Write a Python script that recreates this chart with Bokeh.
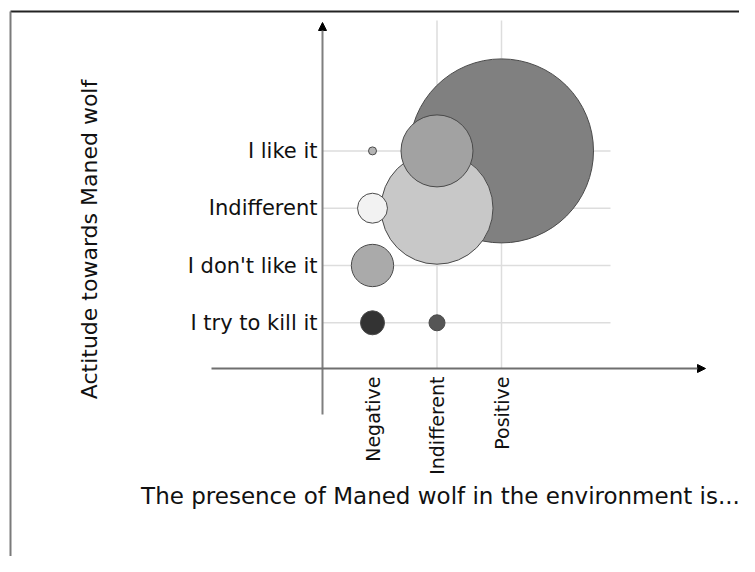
from math import pi, sqrt

from bokeh.plotting import figure
from bokeh.models import FixedTicker, Arrow, NormalHead, Label, ColumnDataSource
from bokeh.embed import file_html
from bokeh.resources import INLINE

# ---------------- data ----------------
x_categories = ["Negative", "Indifferent", "Positive"]
y_categories = ["I try to kill it", "I don't like it", "Indifferent", "I like it"]

bubble_x = ["Positive", "Indifferent", "Indifferent", "Negative",
            "Negative", "Negative", "Negative", "Indifferent"]
bubble_y = ["I like it", "Indifferent", "I like it", "I like it",
            "Indifferent", "I don't like it", "I try to kill it", "I try to kill it"]
bubble_count = [529, 196, 81, 1, 14, 28, 9, 4]
bubble_color = ["#808080", "#c8c8c8", "#a2a2a2", "#b4b4b4",
                "#f2f2f2", "#aaaaaa", "#333333", "#555555"]

x_title = "The presence of Maned wolf in the environment is..."
y_title = "Actitude towards Maned wolf"

# ---------------- layout helpers (picture pixels -> data) ----------------
W, H = 739, 556
X_PX0, X_STEP = 372.0, 64.5     # pixel of first x category, px per category
Y_PX0, Y_STEP = 322.3, 57.3     # pixel of first y category, px per category


def X(px):
    return 1 + (px - X_PX0) / X_STEP


def Y(px):
    return 1 - (px - Y_PX0) / Y_STEP


FONT = "DejaVu Sans"

p = figure(width=W, height=H,
           x_range=(X(0), X(W)),
           y_range=(Y(H), Y(0)),
           output_backend="svg", toolbar_location=None, min_border=0)
p.outline_line_color = None
p.grid.visible = False
p.background_fill_color = "white"
p.border_fill_color = "white"

x_idx = {c: i + 1 for i, c in enumerate(x_categories)}
y_idx = {c: i + 1 for i, c in enumerate(y_categories)}

YAX_X = X(322)     # where the vertical axis crosses
XAX_Y = Y(368)     # where the horizontal axis crosses

# picture border (top and left)
p.segment(x0=[X(10)], x1=[X(W)], y0=[Y(11)], y1=[Y(11)],
          line_color="#222222", line_width=2)
p.segment(x0=[X(10)], x1=[X(10)], y0=[Y(11)], y1=[Y(H)],
          line_color="#7a7a7a", line_width=2)

# grid lines
yt = [y_idx[c] for c in y_categories]
p.segment(x0=[YAX_X] * len(yt), x1=[X(610)] * len(yt), y0=yt, y1=yt,
          line_color="#dddddd", line_width=1.5)
xt = [x_idx[c] for c in x_categories[1:]]
p.segment(x0=xt, x1=xt, y0=[XAX_Y] * len(xt), y1=[Y(20)] * len(xt),
          line_color="#dddddd", line_width=1.5)

# bubbles
src = ColumnDataSource(dict(
    x=[x_idx[c] for c in bubble_x],
    y=[y_idx[c] for c in bubble_y],
    size=[8 * sqrt(v) for v in bubble_count],
    color=bubble_color,
))
p.scatter(x="x", y="y", size="size", source=src, fill_color="color",
          line_color="#4a4a4a", line_width=1)

# axis lines with arrow heads
p.add_layout(Arrow(end=NormalHead(size=8, fill_color="black", line_color="black"),
                   x_start=YAX_X, y_start=Y(414), x_end=YAX_X, y_end=Y(22),
                   line_color="#7f7f7f", line_width=2))
p.add_layout(Arrow(end=NormalHead(size=8, fill_color="black", line_color="black"),
                   x_start=X(211), y_start=XAX_Y, x_end=X(705), y_end=XAX_Y,
                   line_color="#6f6f6f", line_width=2))

# axes (fixed at crossing)
p.xaxis.fixed_location = XAX_Y
p.xaxis.ticker = FixedTicker(ticks=[x_idx[c] for c in x_categories])
p.xaxis.major_label_overrides = {x_idx[c]: c for c in x_categories}
p.xaxis.major_label_orientation = pi / 2
p.xaxis.major_label_standoff = 8
p.xaxis.major_label_text_font_size = "19px"

p.yaxis.fixed_location = YAX_X
p.yaxis.ticker = FixedTicker(ticks=[y_idx[c] for c in y_categories])
p.yaxis.major_label_overrides = {y_idx[c]: c for c in y_categories}
p.yaxis.major_label_standoff = 5
p.yaxis.major_label_text_font_size = "21px"

for ax in (p.xaxis, p.yaxis):
    ax.axis_line_color = None
    ax.major_tick_line_color = None
    ax.minor_tick_line_color = None
    ax.major_tick_out = 0
    ax.major_label_text_font = FONT
    ax.major_label_text_color = "#111111"

# titles
p.add_layout(Label(x=X(440), y=Y(495), text=x_title, text_align="center",
                   text_baseline="middle", text_font=FONT, text_font_size="23px",
                   text_color="#111111"))
p.add_layout(Label(x=X(89), y=Y(239), text=y_title, angle=pi / 2,
                   text_align="center", text_baseline="middle", text_font=FONT,
                   text_font_size="22px", text_color="#111111"))

open("out.html", "w").write(file_html(p, INLINE))
